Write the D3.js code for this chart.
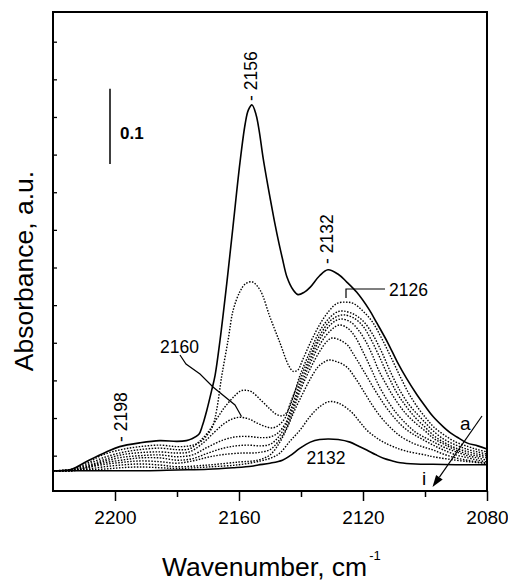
<!DOCTYPE html>
<html>
<head>
<meta charset="utf-8">
<script src="https://cdnjs.cloudflare.com/ajax/libs/d3/7.8.5/d3.min.js"></script>
<style>
  html, body { margin: 0; padding: 0; background: #fff; }
  svg { display: block; font-family: "Liberation Sans", Arial, sans-serif; }
</style>
</head>
<body>
<div id="chart"></div>
<script>
// IR spectra, [wavenumber cm-1, absorbance], top (a) to bottom (i)
var specA = [[2220,0.030],[2214,0.032],[2209.3,0.042],[2202.8,0.055],[2198.5,0.062],[2192,0.067],[2185.6,0.070],[2180,0.069],[2177,0.070],[2175.5,0.072],[2173,0.078],[2171.8,0.090],[2170.4,0.110],[2168.8,0.137],[2167.7,0.157],[2166.1,0.204],[2164,0.277],[2162,0.352],[2159.7,0.439],[2158,0.491],[2157,0.509],[2155.8,0.516],[2154.5,0.503],[2153.5,0.482],[2152.2,0.445],[2150,0.393],[2148.5,0.360],[2147,0.330],[2146,0.312],[2144.5,0.287],[2142.5,0.270],[2141,0.264],[2139,0.267],[2137,0.274],[2134,0.289],[2131.3,0.297],[2128,0.291],[2125.3,0.281],[2122,0.267],[2118,0.244],[2115.5,0.226],[2112,0.200],[2109,0.175],[2106,0.153],[2102.6,0.131],[2100,0.116],[2097.4,0.102],[2094,0.088],[2092,0.081],[2089,0.073],[2086.5,0.067],[2083,0.063],[2080,0.059]];
var specB = [[2220,0.030],[2214,0.032],[2209,0.040],[2204,0.051],[2198,0.058],[2192,0.062],[2185.5,0.064],[2180,0.062],[2176,0.063],[2173,0.067],[2170.5,0.076],[2168.5,0.089],[2167.2,0.111],[2165.6,0.155],[2163.5,0.204],[2161.9,0.243],[2159.7,0.268],[2158,0.278],[2155.8,0.281],[2153.2,0.270],[2150,0.234],[2146.8,0.200],[2144,0.170],[2142.5,0.162],[2141,0.164],[2139.5,0.177],[2137,0.200],[2134,0.224],[2131,0.242],[2128.5,0.252],[2125.5,0.254],[2123,0.252],[2120,0.242],[2117,0.228],[2114,0.206],[2111,0.181],[2108,0.155],[2105,0.131],[2102,0.112],[2099.5,0.099],[2097.4,0.089],[2094,0.078],[2090,0.068],[2086,0.062],[2083,0.058],[2080,0.055]];
var specC = [[2220,0.030],[2214,0.031],[2209,0.038],[2204,0.047],[2198,0.054],[2192,0.058],[2185.5,0.060],[2180,0.058],[2176,0.059],[2173,0.068],[2170,0.081],[2167,0.100],[2164.5,0.115],[2161.5,0.129],[2159.5,0.136],[2158,0.137],[2156,0.135],[2153,0.124],[2150,0.112],[2148,0.105],[2146,0.103],[2144.5,0.108],[2142.5,0.128],[2140.3,0.157],[2137.1,0.188],[2133.9,0.216],[2130.6,0.234],[2128,0.2415],[2126.1,0.242],[2123,0.238],[2120,0.229],[2117,0.212],[2114,0.188],[2111,0.160],[2108,0.136],[2105,0.117],[2102,0.103],[2099.5,0.092],[2097.4,0.083],[2094,0.072],[2090,0.064],[2086,0.058],[2083,0.055],[2080,0.052]];
var specD = [[2220,0.030],[2214,0.031],[2209,0.036],[2204,0.044],[2198,0.051],[2192,0.054],[2185.5,0.055],[2180,0.0535],[2176,0.055],[2172,0.0655],[2168,0.081],[2165,0.092],[2162,0.099],[2159.7,0.101],[2157,0.099],[2154,0.093],[2151,0.088],[2149,0.087],[2147,0.091],[2145,0.101],[2143.5,0.119],[2140.3,0.152],[2137.1,0.182],[2133.9,0.210],[2130.6,0.229],[2128,0.2356],[2126.1,0.237],[2123,0.233],[2120,0.222],[2117.5,0.205],[2115,0.184],[2112,0.157],[2109,0.133],[2106,0.115],[2103,0.100],[2100,0.088],[2097.4,0.0775],[2094,0.068],[2090,0.060],[2086,0.055],[2083,0.052],[2080,0.0496]];
var specE = [[2220,0.030],[2214,0.030],[2209,0.035],[2204,0.042],[2198,0.0476],[2192,0.050],[2185.5,0.051],[2180,0.0486],[2175,0.051],[2170,0.0615],[2165,0.071],[2161,0.075],[2157,0.0755],[2153,0.074],[2150,0.0748],[2147.5,0.080],[2145,0.093],[2143.5,0.109],[2140.3,0.1465],[2137.1,0.177],[2133.9,0.205],[2130.6,0.2236],[2128.5,0.230],[2126.8,0.2316],[2124,0.2276],[2121.5,0.217],[2119,0.201],[2117,0.184],[2115,0.164],[2112,0.141],[2109,0.121],[2106,0.105],[2103,0.093],[2100,0.083],[2097.4,0.0735],[2094,0.0655],[2090,0.0575],[2086,0.052],[2083,0.0496],[2080,0.047]];
var specF = [[2220,0.030],[2214,0.030],[2209,0.034],[2204,0.040],[2198,0.044],[2192,0.047],[2185.5,0.047],[2180,0.044],[2175,0.046],[2170,0.0535],[2165,0.060],[2161,0.063],[2157,0.064],[2153,0.063],[2150,0.065],[2147.5,0.0735],[2145,0.0894],[2143.5,0.104],[2140.3,0.141],[2137.1,0.172],[2133.9,0.198],[2130.6,0.2156],[2127.7,0.2236],[2125,0.2196],[2122.5,0.2077],[2120,0.188],[2117.5,0.1665],[2115,0.144],[2112,0.1226],[2109,0.1054],[2106,0.092],[2103,0.081],[2100,0.074],[2097.4,0.0686],[2094,0.0615],[2090,0.055],[2086,0.0496],[2083,0.047],[2080,0.044]];
var specG = [[2220,0.030],[2214,0.030],[2209,0.034],[2204,0.038],[2198,0.041],[2192,0.043],[2185.5,0.042],[2180,0.040],[2175,0.043],[2170,0.048],[2165,0.0515],[2159,0.0535],[2154,0.054],[2150,0.058],[2147.5,0.068],[2145,0.084],[2143.5,0.0987],[2140.3,0.136],[2137.1,0.165],[2133.9,0.189],[2131.5,0.2023],[2130,0.2063],[2127.5,0.2037],[2125,0.197],[2123.5,0.1877],[2121.9,0.177],[2119,0.157],[2116,0.136],[2113,0.117],[2110,0.101],[2107,0.088],[2104,0.079],[2100.5,0.071],[2097.4,0.064],[2094,0.0575],[2090,0.051],[2086,0.047],[2083,0.044],[2080,0.0416]];
var specH = [[2220,0.030],[2214,0.030],[2209,0.032],[2204,0.035],[2198,0.0376],[2192,0.039],[2185.5,0.0376],[2180,0.0353],[2170,0.0376],[2160,0.0416],[2154,0.044],[2150,0.051],[2147,0.0668],[2144.5,0.0868],[2142,0.1107],[2139.5,0.132],[2137,0.152],[2134.5,0.168],[2133,0.1731],[2131,0.1771],[2128.5,0.175],[2125.3,0.168],[2122.5,0.1532],[2120,0.137],[2117,0.117],[2114,0.100],[2111,0.0868],[2108,0.0761],[2104,0.0668],[2100.5,0.0615],[2097.4,0.0575],[2094,0.052],[2090,0.047],[2086,0.0436],[2083,0.0416],[2080,0.040]];
var specI = [[2220,0.030],[2210,0.031],[2204,0.032],[2198,0.034],[2192,0.035],[2185.5,0.034],[2180,0.033],[2170,0.035],[2160,0.038],[2153,0.043],[2149,0.048],[2146.8,0.0535],[2143.5,0.0695],[2140.3,0.084],[2137.1,0.102],[2134,0.115],[2131,0.1217],[2128,0.120],[2124,0.109],[2121,0.0947],[2118.8,0.084],[2116,0.0748],[2113.4,0.068],[2110,0.0615],[2106,0.056],[2100,0.051],[2097.4,0.0486],[2090,0.044],[2085,0.0416],[2080,0.0396]];
var specJ = [[2220,0.030],[2210,0.030],[2200,0.030],[2190,0.030],[2180,0.031],[2170,0.032],[2162,0.034],[2156,0.036],[2153.8,0.0376],[2150,0.040],[2146,0.044],[2143.5,0.050],[2140.3,0.060],[2137,0.068],[2134,0.0715],[2131,0.0721],[2128,0.0715],[2124.2,0.068],[2121.5,0.0628],[2118.8,0.0575],[2116,0.0515],[2113.4,0.0465],[2110.5,0.043],[2108,0.0407],[2103,0.039],[2097.4,0.0385],[2090,0.038],[2080,0.038]];

var xTicks = [2200, 2160, 2120, 2080];
var xMinorTicks = [2180, 2140, 2100];
var yTicks = [0.05, 0.1, 0.15, 0.2, 0.25, 0.3, 0.35, 0.4, 0.45, 0.5, 0.55, 0.6];

var width = 508, height = 581;
var plot = {left: 53, right: 487, top: 12, bottom: 491};

var svg = d3.select("#chart").append("svg")
  .attr("width", width)
  .attr("height", height);

var x = d3.scaleLinear().domain([2220, 2080]).range([plot.left, plot.right]);
var y = d3.scaleLinear().domain([0, 0.6]).range([493.3, 41.7]);

var line = d3.line()
  .x(function(d) { return x(d[0]); })
  .y(function(d) { return y(d[1]); })
  .curve(d3.curveCatmullRom.alpha(0.5));

var series = [
  {data: specA, solid: true},
  {data: specB}, {data: specC}, {data: specD}, {data: specE},
  {data: specF}, {data: specG}, {data: specH}, {data: specI},
  {data: specJ, solid: true}
];

svg.selectAll("path.spec")
  .data(series)
  .enter()
  .append("path")
  .attr("class", "spec")
  .attr("d", function(d) { return line(d.data); })
  .attr("fill", "none")
  .attr("stroke", "#000")
  .attr("stroke-width", function(d) { return d.solid ? 1.6 : 1.4; })
  .attr("stroke-dasharray", function(d) { return d.solid ? null : "1.5,1.5"; });

// frame
svg.append("rect")
  .attr("x", plot.left)
  .attr("y", plot.top)
  .attr("width", plot.right - plot.left)
  .attr("height", plot.bottom - plot.top)
  .attr("fill", "none")
  .attr("stroke", "#000")
  .attr("stroke-width", 2);

var xAxis = svg.append("g")
  .attr("transform", "translate(0," + plot.bottom + ")")
  .call(d3.axisBottom(x).tickValues(xTicks).tickSize(10).tickPadding(9.5).tickFormat(d3.format("d")));
xAxis.select(".domain").remove();
xAxis.selectAll("line").attr("stroke-width", 1.5);
xAxis.selectAll("text")
  .style("font-size", "19px")
  .style("font-family", "'Liberation Sans', Arial, sans-serif")
  .attr("fill", "#000");

var xMinor = svg.append("g")
  .attr("transform", "translate(0," + plot.bottom + ")")
  .call(d3.axisBottom(x).tickValues(xMinorTicks).tickSize(6).tickFormat(""));
xMinor.select(".domain").remove();
xMinor.selectAll("line").attr("stroke-width", 1.5);

var yAxis = svg.append("g")
  .attr("transform", "translate(" + plot.left + ",0)")
  .call(d3.axisLeft(y).tickValues(yTicks).tickSize(-4).tickFormat(""));
yAxis.select(".domain").remove();
yAxis.selectAll("line").attr("stroke-width", 1.3);

// axis titles
svg.append("text")
  .attr("transform", "translate(33,271) rotate(-90)")
  .attr("text-anchor", "middle")
  .style("font-size", "26.5px")
  .text("Absorbance, a.u.");

var xt = svg.append("text")
  .attr("x", 162)
  .attr("y", 576)
  .style("font-size", "26.5px");
xt.append("tspan").text("Wavenumber, cm");
xt.append("tspan").attr("dy", -16).attr("dx", 2).style("font-size", "13px").text("-1");

// scale bar
var barBottom = 164;
svg.append("line")
  .attr("x1", 110).attr("x2", 110)
  .attr("y1", barBottom)
  .attr("y2", barBottom - (y(0) - y(0.1)))
  .attr("stroke", "#000")
  .attr("stroke-width", 1.5);
svg.append("text")
  .attr("x", 120).attr("y", 139)
  .style("font-size", "17px")
  .style("font-weight", "bold")
  .text("0.1");

// peak annotations
var fs = "17.5px";
[
  {t: "- 2156", x: 256.5, y: 101},
  {t: "- 2132", x: 332.5, y: 264},
  {t: "- 2198", x: 127, y: 442}
].forEach(function(d) {
  svg.append("text")
    .attr("transform", "translate(" + d.x + "," + d.y + ") rotate(-90)")
    .style("font-size", fs)
    .text(d.t);
});

[
  {t: "2160", x: 160, y: 353},
  {t: "2126", x: 389, y: 296},
  {t: "2132", x: 306.5, y: 463.5}
].forEach(function(d) {
  svg.append("text")
    .attr("x", d.x).attr("y", d.y)
    .style("font-size", fs)
    .text(d.t);
});

svg.append("path")
  .attr("d", "M346,298V289H385")
  .attr("fill", "none").attr("stroke", "#000").attr("stroke-width", 1.2);

svg.append("path")
  .attr("d", d3.line()([[180,355],[186,364],[200,374],[213,387],[235,405],[241.5,416.5]]))
  .attr("fill", "none").attr("stroke", "#000").attr("stroke-width", 1.2);

// a -> i arrow
svg.append("text").attr("x", 460).attr("y", 430).style("font-size", "19px").text("a");
svg.append("text").attr("x", 422).attr("y", 485).style("font-size", "19px").text("i");
svg.append("line")
  .attr("x1", 482).attr("y1", 416)
  .attr("x2", 439.4).attr("y2", 477.2)
  .attr("stroke", "#000").attr("stroke-width", 1.2);
svg.append("path")
  .attr("d", "M432.5,487L442.7,479.5L436.1,474.9Z")
  .attr("fill", "#000");
</script>
</body>
</html>
